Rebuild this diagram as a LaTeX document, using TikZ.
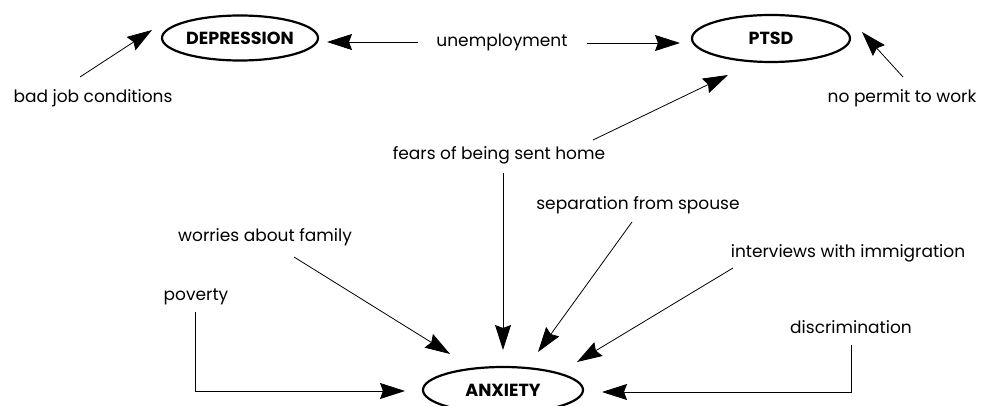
\documentclass[tikz,border=0pt]{standalone}
\usepackage{fontspec}
\setmainfont{Poppins}
\usetikzlibrary{arrows.meta}

\begin{document}
\begin{tikzpicture}[x=1pt,y=-1pt]
% Frame of the picture, in pixel units with y going down
\useasboundingbox (0,0) rectangle (982,406);

% Styles for the causes, the three illnesses and the arrows
\tikzstyle{cause}=[font=\fontsize{17}{20}\selectfont, inner sep=0pt]
\tikzstyle{illness}=[font=\fontsize{17.5}{20}\selectfont\bfseries, inner sep=0pt]
\tikzstyle{oval}=[line width=2.2pt]
\tikzstyle{link}=[line width=0.8pt, -{Stealth[length=25pt,width=16pt,inset=3pt]}]

% The illnesses, each one in an oval
\node[illness] (dep) at (240,38) {DEPRESSION};
\node[illness] (ptsd) at (771,38.5) {PTSD};
\node[illness] (anx) at (503,390) {ANXIETY};
\draw[oval] (dep.center) ellipse [x radius=78pt, y radius=22.5pt];
\draw[oval] (ptsd.center) ellipse [x radius=79pt, y radius=23.5pt];
\draw[oval] (anx.center) ellipse [x radius=80pt, y radius=23pt];

% The causes
\node[cause] (bad) at (93,98) {bad job conditions};
\node[cause] (unemp) at (502,42) {unemployment};
\node[cause] (permit) at (902,98) {no permit to work};
\node[cause] (fears) at (499,155) {fears of being sent home};
\node[cause] (sep) at (638,205) {separation from spouse};
\node[cause] (worries) at (265,237) {worries about family};
\node[cause] (interv) at (848,253) {interviews with immigration};
\node[cause] (poverty) at (196,297) {poverty};
\node[cause] (disc) at (851,327) {discrimination};

% Arrows into DEPRESSION and PTSD
\draw[link] ([xshift=-13pt,yshift=21pt]bad.center) -- ([xshift=-88pt,yshift=8pt]dep.center);
\draw[link] ([xshift=-84pt]unemp.center) -- ([xshift=87pt,yshift=-4pt]dep.center);
\draw[link] ([xshift=85pt,yshift=-1pt]unemp.center) -- ([xshift=-91pt,yshift=-4.5pt]ptsd.center);
\draw[link] ([xshift=94pt,yshift=15pt]fears.center) -- ([xshift=-43pt,yshift=-36.5pt]ptsd.center);
\draw[link] ([xshift=1pt,yshift=21pt]permit.center) -- ([xshift=91pt,yshift=6.5pt]ptsd.center);

% Arrows into ANXIETY
\draw[link] ([xshift=4pt,yshift=-18pt]fears.center) -- ([yshift=40pt]anx.center);
\draw[link] ([xshift=29pt,yshift=-20pt]worries.center) -- ([xshift=-53pt,yshift=36pt]anx.center);
\draw[link] ([xshift=-1pt,yshift=-15pt]poverty.center) |- ([xshift=-98pt,yshift=-1pt]anx.center);
\draw[link] ([xshift=-6pt,yshift=-17pt]sep.center) -- ([xshift=35pt,yshift=38pt]anx.center);
\draw[link] ([xshift=-115pt,yshift=-15pt]interv.center) -- ([xshift=74pt,yshift=28pt]anx.center);
\draw[link] ([yshift=-18pt]disc.center) |- ([xshift=99pt,yshift=-2pt]anx.center);

\end{tikzpicture}
\end{document}
